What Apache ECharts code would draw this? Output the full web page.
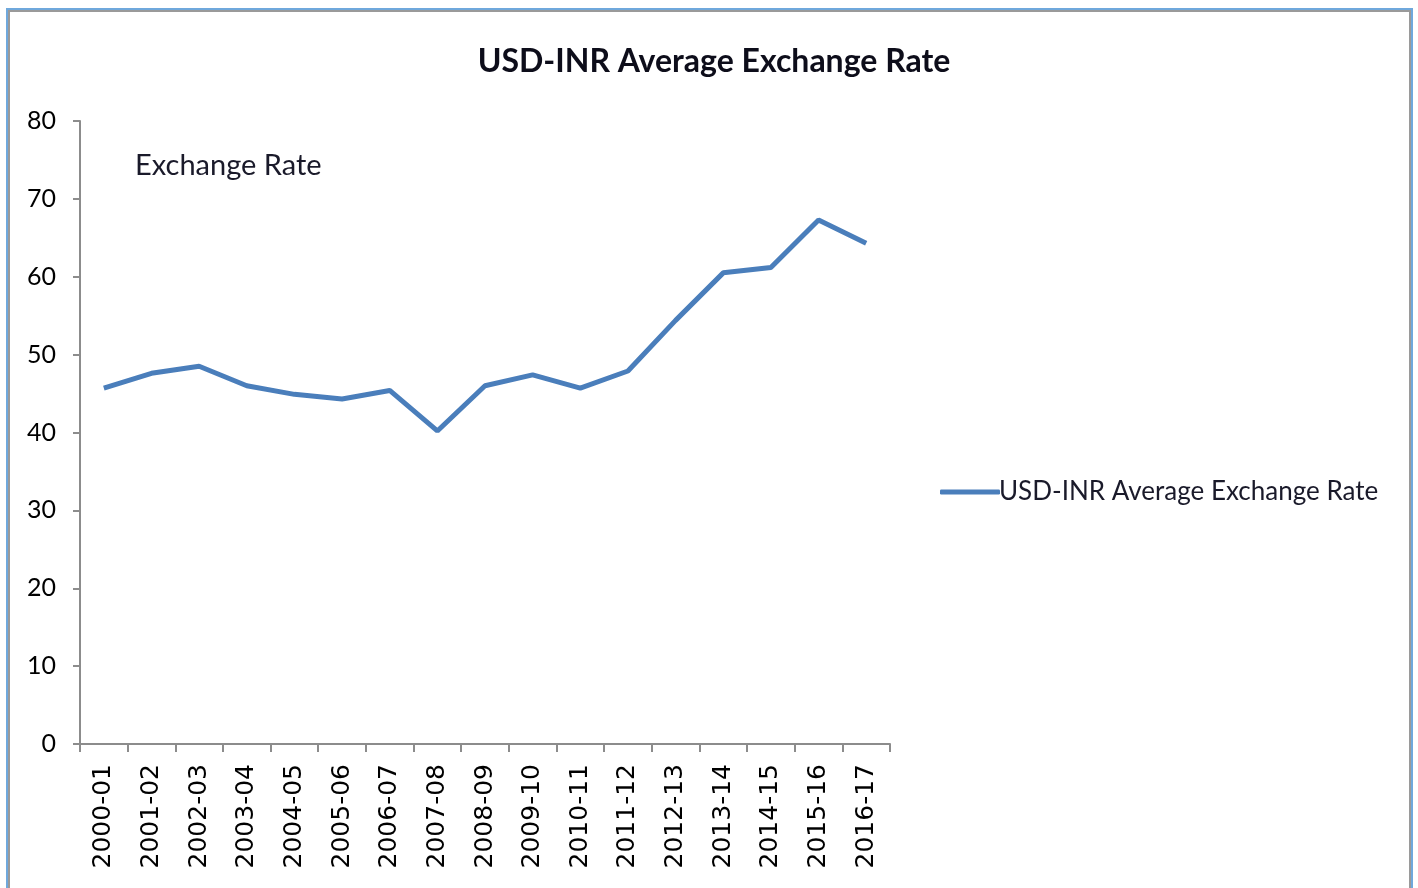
<!DOCTYPE html>
<html>
<head>
<meta charset="utf-8">
<script src="https://cdn.jsdelivr.net/npm/echarts@6/dist/echarts.min.js"></script>
<style>
html,body{margin:0;padding:0;background:#fff;}
#chart{width:1418px;height:888px;}
</style>
</head>
<body>
<div id="chart"></div>
<script>
var categories = ['2000-01','2001-02','2002-03','2003-04','2004-05','2005-06','2006-07','2007-08','2008-09','2009-10','2010-11','2011-12','2012-13','2013-14','2014-15','2015-16','2016-17'];
var rates = [45.7, 47.6, 48.5, 46.0, 44.9, 44.3, 45.4, 40.2, 46.0, 47.4, 45.7, 47.9, 54.4, 60.5, 61.2, 67.3, 64.3];
var yTicks = {min: 0, max: 80, interval: 10};
var seriesName = 'USD-INR Average Exchange Rate';

var chart = echarts.init(document.getElementById('chart'));
chart.setOption({
  animation: false,
  backgroundColor: '#fff',
  graphic: [
    {type: 'rect', shape: {x: 7, y: 9, width: 1405, height: 884}, style: {fill: 'none', stroke: '#6fa8dc', lineWidth: 2}, silent: true},
    {type: 'rect', shape: {x: 9, y: 11, width: 1401, height: 884}, style: {fill: 'none', stroke: '#9a9a9a', lineWidth: 2}, silent: true}
  ],
  title: [
    {text: 'USD-INR Average Exchange Rate', left: 709, textAlign: 'center', top: 41,
     textStyle: {fontFamily: 'Lato', fontWeight: 'bold', fontSize: 32, color: '#0d0d1a'}},
    {text: 'Exchange Rate', left: 130, top: 146,
     textStyle: {fontFamily: 'Lato', fontWeight: 'normal', fontSize: 29, color: '#1a1a2a'}}
  ],
  legend: {
    data: [seriesName], left: 935, top: 474, orient: 'vertical',
    icon: 'roundRect', itemWidth: 60, itemHeight: 5, itemGap: 0,
    textStyle: {fontFamily: 'Lato', fontSize: 26, color: '#1a1a2a', padding: [0,0,0,-6]}
  },
  grid: {left: 80, right: 528, top: 121, bottom: 144},
  xAxis: {
    type: 'category', data: categories, boundaryGap: true,
    axisLine: {lineStyle: {color: '#8c8c8c', width: 2}},
    axisTick: {show: true, length: 8, lineStyle: {color: '#8c8c8c', width: 2}, alignWithLabel: false},
    axisLabel: {rotate: 90, interval: 0, margin: 20, fontFamily: 'DejaVu Sans', fontSize: 25, color: '#000'},
    splitLine: {show: false}
  },
  yAxis: {
    type: 'value', min: yTicks.min, max: yTicks.max, interval: yTicks.interval,
    axisLine: {show: true, lineStyle: {color: '#8c8c8c', width: 2}},
    axisTick: {show: true, length: 7, lineStyle: {color: '#8c8c8c', width: 2}},
    axisLabel: {margin: 24, fontFamily: 'Lato', fontSize: 25, color: '#000'},
    splitLine: {show: false}
  },
  series: [{
    name: seriesName, type: 'line', data: rates, symbol: 'none',
    lineStyle: {color: '#4a7ebb', width: 5}, itemStyle: {color: '#4a7ebb'}
  }]
});
</script>
</body>
</html>
